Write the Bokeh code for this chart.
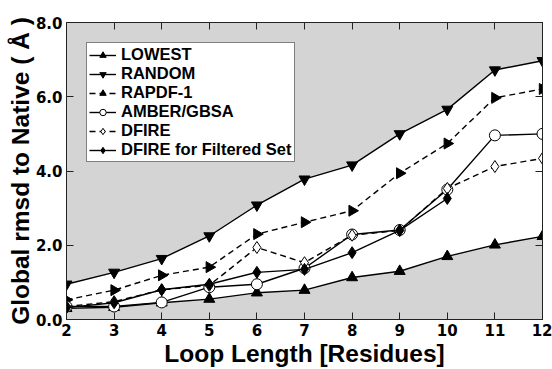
import numpy as np
from bokeh.plotting import figure
from bokeh.models import LinearAxis, Range1d, FixedTicker, PrintfTickFormatter, Legend, LegendItem
from bokeh.embed import file_html
from bokeh.resources import INLINE

loop_length = [2, 3, 4, 5, 6, 7, 8, 9, 10, 11, 12]
lowest = [0.30, 0.33, 0.45, 0.55, 0.72, 0.79, 1.13, 1.30, 1.70, 2.01, 2.24]
random_ = [0.95, 1.27, 1.64, 2.25, 3.08, 3.78, 4.16, 5.00, 5.66, 6.72, 6.97]
rapdf = [0.53, 0.79, 1.19, 1.41, 2.30, 2.62, 2.93, 3.94, 4.74, 5.97, 6.21]
amber = [0.35, 0.35, 0.46, 0.87, 0.95, 1.38, 2.29, 2.41, 3.50, 4.96, 5.00]
dfire = [0.35, 0.48, 0.80, 0.92, 1.94, 1.53, 2.27, 2.40, 3.53, 4.12, 4.34]
filtered_length = [2, 3, 4, 5, 6, 7, 8, 9, 10]
dfire_filtered = [0.32, 0.45, 0.80, 0.95, 1.27, 1.35, 1.80, 2.40, 3.26]

y_ticks = [0, 2, 4, 6, 8]
x_ticks = loop_length

FONT = "DejaVu Sans"
LABEL_FONT = "Liberation Sans"
GRAY = "#d4d4d4"

p = figure(width=552, height=369, output_backend="svg", toolbar_location=None,
           x_range=Range1d(2, 12), y_range=Range1d(0, 8),
           min_border_left=66, min_border_right=10, min_border_top=22, min_border_bottom=45)
p.background_fill_color = GRAY
p.border_fill_color = "white"
p.outline_line_color = "#222222"
p.grid.visible = False

# white band between LOWEST and RANDOM
p.varea(x=loop_length, y1=lowest, y2=random_, fill_color="white")

xa = p.xaxis[0]
ya = p.yaxis[0]
xa.ticker = FixedTicker(ticks=x_ticks)
ya.ticker = FixedTicker(ticks=y_ticks)
ya.formatter = PrintfTickFormatter(format="%.1f")
for ax in (xa, ya):
    ax.major_tick_in = 7
    ax.major_tick_out = 0
    ax.minor_tick_in = 0
    ax.minor_tick_out = 0
    ax.axis_line_color = "#222222"
    ax.major_tick_line_color = "#222222"
    ax.major_label_text_font = FONT
    ax.major_label_text_font_style = "bold"
    ax.major_label_text_font_size = "15px"
    ax.major_label_text_color = "black"
    ax.major_label_standoff = 4
    ax.axis_label_text_font = LABEL_FONT
    ax.axis_label_text_font_style = "bold"
    ax.axis_label_text_font_size = "24.5px"
    ax.axis_label_text_color = "black"
xa.axis_label = "Loop Length [Residues]"
xa.axis_label_standoff = 1
ya.axis_label = "Global rmsd to Native ( Å )"
ya.axis_label_standoff = -1

top = LinearAxis(ticker=FixedTicker(ticks=x_ticks))
right = LinearAxis(ticker=FixedTicker(ticks=y_ticks))
for ax in (top, right):
    ax.major_tick_in = 7
    ax.major_tick_out = 0
    ax.minor_tick_in = 0
    ax.minor_tick_out = 0
    ax.axis_line_color = "#222222"
    ax.major_tick_line_color = "#222222"
    ax.major_label_text_color = None
    ax.major_label_standoff = 0
    ax.major_label_text_font_size = "1px"
p.add_layout(top, "above")
p.add_layout(right, "right")

LW = 1.4
DASH = "6 4"
items = []

def series(x, y, label, marker, dash="solid", fill="black", angle=0.0, size=10):
    l = p.line(x, y, line_color="black", line_width=LW, line_dash=dash)
    s = p.scatter(x, y, marker=marker, size=size, angle=angle,
                  fill_color=fill, line_color="black", line_width=1)
    items.append(LegendItem(label=label, renderers=[l, s]))

series(loop_length, lowest, "LOWEST", "triangle", size=11)
series(loop_length, random_, "RANDOM", "inverted_triangle", size=11)
series(loop_length, rapdf, "RAPDF-1", "triangle", dash=DASH, angle=-np.pi / 2, size=11)
series(loop_length, amber, "AMBER/GBSA", "circle", fill="white", size=11)
series(loop_length, dfire, "DFIRE", "diamond", dash=DASH, fill="white", size=12)
series(filtered_length, dfire_filtered, "DFIRE for Filtered Set", "diamond", size=12)

legend = Legend(items=items, location="top_left")
legend.margin = 20
legend.padding = 2
legend.spacing = -2
legend.label_height = 16
legend.glyph_height = 16
legend.glyph_width = 27
legend.label_standoff = 5
legend.label_text_font = LABEL_FONT
legend.label_text_font_style = "bold"
legend.label_text_font_size = "16.5px"
legend.label_text_color = "black"
legend.border_line_color = "black"
legend.border_line_width = 1
legend.background_fill_color = "white"
legend.background_fill_alpha = 1.0
p.add_layout(legend, "center")

open("out.html", "w").write(file_html(p, INLINE))
